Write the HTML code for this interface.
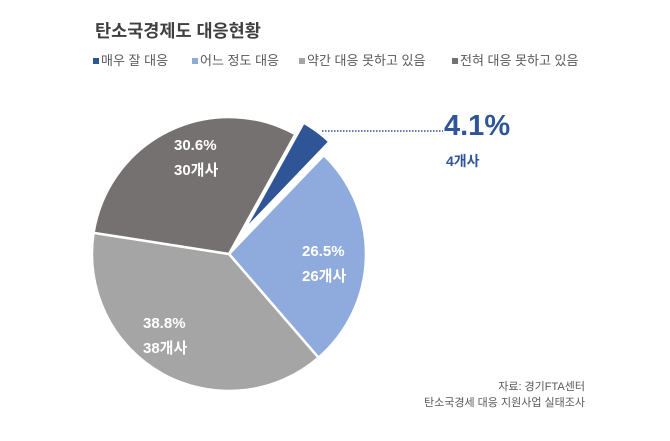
<!DOCTYPE html>
<html><head><meta charset="utf-8"><style>
body{margin:0;background:#fff;}
svg text{font-family:"Liberation Sans","Noto Sans CJK KR",sans-serif;}
</style></head><body>
<svg width="670" height="436" viewBox="0 0 670 436" xmlns="http://www.w3.org/2000/svg">
<rect width="670" height="436" fill="#fff"/>
<text x="95" y="37" font-size="17.5" font-weight="bold" fill="#404040">탄소국경제도 대응현황</text>
<g font-size="13" fill="#595959">
<rect x="93" y="58" width="6" height="6" fill="#2f5597"/><text x="101" y="65">매우 잘 대응</text>
<rect x="192" y="58" width="6" height="6" fill="#8faadc"/><text x="200" y="65">어느 정도 대응</text>
<rect x="299" y="58" width="6" height="6" fill="#a5a5a5"/><text x="307" y="65">약간 대응 못하고 있음</text>
<rect x="452" y="58" width="6" height="6" fill="#767171"/><text x="460" y="65">전혀 대응 못하고 있음</text>
</g>
<g stroke="#fff" stroke-width="2.5" stroke-linejoin="round">
<path d="M229,254 L323.8,155.1 A137,137 0 0 1 318.5,357.7 Z" fill="#8faadc"/>
<path d="M229,254 L318.5,357.7 A137,137 0 0 1 93.6,232.8 Z" fill="#a5a5a5"/>
<path d="M229,254 L93.6,232.8 A137,137 0 0 1 295.4,134.2 Z" fill="#767171"/>
<path d="M243,232 L303.6,122.7 A125,125 0 0 1 329.5,141.8 Z" fill="#2f5597"/>
</g>
<line x1="322" y1="131" x2="443" y2="131" stroke="#2f5597" stroke-width="1.5" stroke-dasharray="1.5,1.5"/>
<text x="444" y="135" font-size="29" font-weight="bold" fill="#2f5597">4.1%</text>
<text x="446" y="166" font-size="14" font-weight="bold" fill="#2f5597">4개사</text>
<g font-size="15" font-weight="bold" fill="#fff">
<text x="174" y="150">30.6%</text><text x="174" y="175">30개사</text>
<text x="302" y="256">26.5%</text><text x="302" y="281">26개사</text>
<text x="143" y="328">38.8%</text><text x="143" y="353">38개사</text>
</g>
<g font-size="11" fill="#595959" text-anchor="end">
<text x="585" y="390">자료: 경기FTA센터</text>
<text x="585" y="406">탄소국경세 대응 지원사업 실태조사</text>
</g>
</svg>
</body></html>
